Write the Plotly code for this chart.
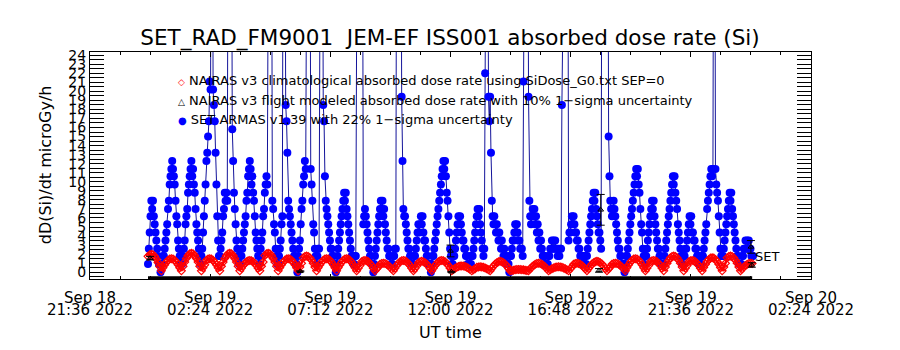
import pandas as pd
import plotly.graph_objects as go

# ---------------- data ----------------
set_start = "2022-09-18 23:55"
set_step = "2min"
clim_start = "2022-09-18 23:55"
clim_step = "4min"

# SET ARMAS v1.39 absorbed dose rate (microGy/h), 2-min samples
set_dose = [
    0.9, 2.6, 4.4, 6.2, 7.9, 7.0, 7.9, 6.2, 5.3, 4.4, 3.5, 2.6, 1.8, 0.9, 0.9, 0.0,
    0.9, 0.9, 1.8, 1.8, 2.6, 3.5, 4.4, 5.3, 7.0, 7.9, 9.7, 10.6, 11.4, 12.3, 11.4, 10.6, 9.7, 7.9, 6.2, 5.3, 3.5, 2.6, 1.8, 0.9,
    1.8, 0.9, 1.8, 2.6, 3.5, 5.3, 6.2, 7.0, 8.8, 9.7, 10.6, 11.4, 12.3, 10.6, 11.4, 9.7, 8.8, 7.0, 5.3, 4.4, 3.5, 2.6, 1.8, 0.9,
    1.8, 2.6, 4.4, 6.2, 7.9, 9.7, 12.3, 13.2, 15.0, 16.7, 21.1, 20.2, 58.0, 62.0, 20.2, 18.5, 16.7, 13.2, 9.7, 6.2, 3.5, 1.8,
    1.8, 2.6, 3.5, 4.4, 6.2, 7.0, 8.8, 7.9, 8.8, 7.9, 45.0, 52.0, 58.0, 55.0, 48.0, 15.8, 12.3, 8.8, 7.0, 5.3, 3.5, 2.6, 1.8, 0.9,
    1.8, 0.9, 1.8, 2.6, 3.5, 4.4, 5.3, 6.2, 7.9, 8.8, 10.6, 11.4, 12.3, 11.4, 9.7, 10.6, 8.8, 7.9, 6.2, 4.4, 3.5, 2.6, 1.8, 0.9,
    1.8, 2.6, 3.5, 4.4, 6.2, 7.0, 8.8, 9.7, 10.6, 9.7, 50.0, 56.0, 60.0, 54.0, 48.0, 7.9, 7.0, 5.3, 4.4, 2.6, 1.8, 0.9,
    0.9, 1.8, 2.6, 3.5, 5.3, 6.2, 46.0, 52.0, 48.0, 18.5, 16.7, 13.2, 7.9, 7.0, 6.2, 5.3, 4.4, 3.5, 2.6, 1.8, 1.8, 0.9, 0.9, 0.0,
    1.8, 2.6, 3.5, 5.3, 7.0, 7.9, 9.7, 10.6, 12.3, 11.4, 50.0, 55.0, 60.0, 56.0, 50.0, 11.4, 9.7, 7.9, 5.3, 4.4, 2.6, 1.8,
    0.9, 1.8, 2.6, 2.6, 48.0, 54.0, 56.0, 50.0, 18.5, 16.7, 10.6, 7.9, 7.0, 6.2, 5.3, 4.4, 3.5, 2.6, 2.6, 1.8, 1.8, 0.9, 0.9, 0.0,
    0.9, 1.8, 2.6, 3.5, 4.4, 5.3, 6.2, 7.0, 7.9, 8.8, 7.9, 8.8, 7.0, 6.2, 5.3, 4.4, 3.5, 2.6, 1.8, 1.8, 0.9, 0.9, 1.8, 1.8,
    46.0, 52.0, 56.0, 60.0, 58.0, 55.0, 50.0, 46.0, 5.3, 6.2, 7.0, 6.2, 5.3, 4.4, 3.5, 2.6, 1.8, 1.8, 0.9, 0.9, 0.0, 0.9,
    1.8, 2.6, 3.5, 4.4, 5.3, 6.2, 7.0, 7.9, 7.0, 7.9, 6.2, 7.0, 5.3, 4.4, 3.5, 2.6, 2.6, 1.8, 1.8, 0.9, 0.9, 0.9,
    1.8, 1.8, 2.6, 2.6, 48.0, 54.0, 58.0, 60.0, 55.0, 50.0, 19.4, 12.3, 7.0, 6.2, 6.2, 5.3, 4.4, 3.5, 2.6, 2.6, 1.8, 1.8, 0.9, 0.9,
    0.9, 1.8, 1.8, 2.6, 3.5, 4.4, 5.3, 4.4, 5.3, 6.2, 5.3, 6.2, 4.4, 3.5, 3.5, 2.6, 1.8, 1.8, 0.9, 0.9, 0.9, 0.0,
    0.9, 1.8, 1.8, 2.6, 3.5, 4.4, 5.3, 6.2, 7.0, 7.9, 8.8, 9.7, 10.6, 11.4, 12.3, 11.4, 12.3, 10.6, 8.8, 7.9, 6.2, 4.4, 2.6, 1.8,
    0.9, 0.9, 1.8, 1.8, 2.6, 3.5, 4.4, 5.3, 6.2, 5.3, 6.2, 5.3, 4.4, 3.5, 3.5, 2.6, 2.6, 1.8, 1.8, 0.9, 0.9, 0.9, 1.8, 0.9,
    1.8, 1.8, 2.6, 3.5, 4.4, 5.3, 6.2, 7.0, 6.2, 7.0, 5.3, 4.4, 3.5, 2.6, 1.8, 2.6, 22.0, 52.0, 60.0, 55.0, 19.4, 16.7,
    19.4, 13.2, 7.9, 6.2, 5.3, 6.2, 5.3, 4.4, 5.3, 4.4, 3.5, 4.4, 3.5, 2.6, 3.5, 2.6, 1.8, 2.6, 1.8, 0.9, 1.8, 0.9, 0.9, 0.0,
    1.8, 1.8, 2.6, 3.5, 3.5, 4.4, 5.3, 4.4, 5.3, 4.4, 3.5, 3.5, 2.6, 2.6, 2.6, 1.8, 21.1, 50.0, 56.0, 60.0, 57.0, 52.0,
    19.4, 7.9, 6.2, 5.3, 6.2, 7.0, 6.2, 7.0, 5.3, 6.2, 4.4, 5.3, 3.5, 4.4, 2.6, 3.5, 2.6, 1.8, 1.8, 0.9, 1.8, 0.9, 0.9, 0.9,
    1.8, 1.8, 2.6, 2.6, 3.5, 2.6, 3.5, 2.6, 3.5, 2.6, 2.6, 1.8, 2.6, 1.8, 2.6, 2.6, 18.5, 46.0, 50.0, 55.0, 58.0, 60.0, 56.0, 50.0,
    3.5, 4.4, 4.4, 5.3, 6.2, 5.3, 6.2, 5.3, 4.4, 4.4, 3.5, 3.5, 2.6, 2.6, 1.8, 1.8, 0.9, 1.8, 0.9, 1.8, 1.8, 0.9,
    1.8, 2.6, 3.5, 4.4, 5.3, 6.2, 7.0, 7.9, 8.8, 7.9, 8.8, 7.0, 6.2, 5.3, 4.4, 4.4, 3.5, 2.6, 50.0, 56.0, 60.0, 58.0, 54.0, 50.0,
    48.0, 46.0, 15.0, 10.6, 7.9, 7.0, 6.2, 7.0, 7.9, 7.0, 6.2, 5.3, 4.4, 3.5, 2.6, 2.6, 1.8, 1.8, 0.9, 0.9, 0.9, 0.0,
    0.9, 1.8, 1.8, 2.6, 3.5, 4.4, 5.3, 6.2, 7.0, 7.9, 8.8, 9.7, 10.6, 11.4, 10.6, 11.4, 9.7, 8.8, 7.0, 5.3, 4.4, 2.6, 1.8, 0.9,
    1.8, 1.8, 2.6, 3.5, 4.4, 5.3, 6.2, 7.0, 7.9, 7.0, 7.9, 6.2, 5.3, 4.4, 3.5, 2.6, 2.6, 1.8, 1.8, 0.9, 0.9, 0.9,
    0.9, 1.8, 2.6, 3.5, 4.4, 5.3, 6.2, 7.0, 7.9, 8.8, 9.7, 10.6, 9.7, 10.6, 8.8, 7.9, 7.0, 5.3, 4.4, 3.5, 2.6, 1.8, 0.9, 0.9,
    1.8, 1.8, 2.6, 2.6, 3.5, 4.4, 5.3, 6.2, 5.3, 6.2, 4.4, 4.4, 3.5, 3.5, 2.6, 2.6, 1.8, 1.8, 0.9, 1.8, 0.9, 0.9,
    1.8, 1.8, 2.6, 3.5, 4.4, 5.3, 7.0, 7.9, 8.8, 9.7, 10.6, 11.4, 10.6, 11.4, 55.0, 60.0, 11.4, 9.7, 8.8, 7.9, 6.2, 4.4, 2.6, 1.8,
    1.8, 1.8, 2.6, 3.5, 4.4, 5.3, 6.2, 7.0, 7.9, 8.8, 7.9, 8.8, 7.0, 6.2, 5.3, 4.4, 3.5, 2.6, 1.8, 1.8, 0.9, 0.9,
    0.9, 0.9, 1.8, 1.8, 2.6, 2.6, 3.5, 2.6, 3.5, 2.6, 3.5, 2.6, 2.6, 1.8, 1.8, 1.8,
]

# NAIRAS v3 climatological absorbed dose rate (microGy/h), 4-min samples
nairas_clim = [
    1.76, 1.94, 2.0, 1.94, 1.76, 1.46, 1.08, 0.63,
    0.15, 0.5, 0.83, 1.11, 1.32, 1.46, 1.5, 1.46, 1.32, 1.11, 0.83, 0.5,
    0.15, 0.66, 1.13, 1.53, 1.85, 2.04, 2.1, 2.04, 1.85, 1.53, 1.13, 0.66,
    0.15, 0.5, 0.83, 1.32, 1.46, 1.5, 1.46, 1.32, 1.11, 0.83, 0.5,
    0.15, 0.66, 1.13, 1.53, 1.85, 2.04, 2.1, 2.04, 1.85, 1.53, 1.13, 0.66,
    0.15, 0.45, 0.73, 0.97, 1.15, 1.27, 1.3, 1.27, 1.15, 0.97, 0.73, 0.45,
    0.15, 0.66, 1.13, 1.85, 2.04, 2.1, 2.04, 1.85, 1.53, 1.13, 0.66,
    0.15, 0.5, 0.83, 1.11, 1.32, 1.46, 1.5, 1.46, 1.32, 1.11, 0.83, 0.5,
    0.15, 0.58, 0.98, 1.59, 1.75, 1.8, 1.75, 1.59, 1.32, 0.98, 0.58,
    0.15, 0.5, 0.83, 1.11, 1.32, 1.46, 1.5, 1.46, 1.32, 1.11, 0.83, 0.5,
    0.15, 0.5, 0.83, 1.11, 1.32, 1.46, 1.5, 1.46, 1.32, 1.11, 0.83, 0.5,
    0.15, 0.45, 0.73, 1.15, 1.27, 1.3, 1.27, 1.15, 0.97, 0.73, 0.45,
    0.15, 0.37, 0.58, 0.89, 0.97, 1.0, 0.97, 0.89, 0.75, 0.58, 0.37,
    0.15, 0.45, 0.73, 0.97, 1.15, 1.27, 1.3, 1.27, 1.15, 0.97, 0.73, 0.45,
    0.15, 0.42, 0.68, 1.06, 1.17, 1.2, 1.17, 1.06, 0.9, 0.68, 0.42,
    0.15, 0.45, 0.73, 0.97, 1.15, 1.27, 1.3, 1.27, 1.15, 0.97, 0.73, 0.45,
    0.15, 0.29, 0.43, 0.54, 0.63, 0.68, 0.7, 0.68, 0.63, 0.54, 0.43, 0.29,
    0.15, 0.27, 0.38, 0.54, 0.59, 0.6, 0.59, 0.54, 0.47, 0.38, 0.27,
    0.15, 0.42, 0.68, 0.9, 1.06, 1.17, 1.2, 1.17, 1.06, 0.9, 0.68, 0.42,
    0.15, 0.19, 0.23, 0.28, 0.3, 0.3, 0.3, 0.28, 0.26, 0.23, 0.19,
    0.15, 0.37, 0.58, 0.75, 0.89, 0.97, 1.0, 0.97, 0.89, 0.75, 0.58, 0.37,
    0.15, 0.27, 0.38, 0.47, 0.54, 0.59, 0.6, 0.59, 0.54, 0.47, 0.38, 0.27,
    0.15, 0.37, 0.58, 0.89, 0.97, 1.0, 0.97, 0.89, 0.75, 0.58, 0.37,
    0.15, 0.42, 0.68, 0.9, 1.06, 1.17, 1.2, 1.17, 1.06, 0.9, 0.68, 0.42,
    0.15, 0.37, 0.58, 0.89, 0.97, 1.0, 0.97, 0.89, 0.75, 0.58, 0.37,
    0.15, 0.5, 0.83, 1.11, 1.32, 1.46, 1.5, 1.46, 1.32, 1.11, 0.83, 0.5,
    0.15, 0.45, 0.73, 1.15, 1.27, 1.3, 1.27, 1.15, 0.97, 0.73, 0.45,
    0.15, 0.58, 0.98, 1.32, 1.59, 1.75, 1.8, 1.75, 1.59, 1.32, 0.98, 0.58,
    0.15, 0.45, 0.73, 1.15, 1.27, 1.3, 1.27, 1.15, 0.97, 0.73, 0.45,
    0.15, 0.53, 0.88, 1.18, 1.41, 1.56, 1.6, 1.56, 1.41, 1.18, 0.88, 0.53,
    0.15, 0.58, 0.98, 1.59, 1.75, 1.8, 1.75, 1.59, 1.32, 0.98, 0.58,
    0.15, 0.37, 0.58, 0.75, 0.89, 0.97, 1.0, 0.97,
]

# NAIRAS v3 flight modeled absorbed dose rate with uncertainty
flight_time = ["2022-09-19 00:00", "2022-09-19 06:00", "2022-09-19 12:00",
               "2022-09-19 12:02", "2022-09-19 17:56", "2022-09-19 18:00",
               "2022-09-20 00:00", "2022-09-20 00:02"]
flight_dose = [1.55, 0.1, 2.35, 0.05, 0.2, 6.9, 2.8, 0.8]
flight_err = [0.2, 0.05, 0.65, 0.05, 0.2, 1.7, 0.7, 0.25]

# flight-track baseline drawn along the bottom
baseline_time = ["2022-09-18 23:55", "2022-09-20 00:03"]
baseline_dose = [-0.6, -0.6]

x_range = ["2022-09-18 21:36", "2022-09-20 02:24"]
x_tick0 = "2022-09-18 21:36"
x_dtick_ms = 4.8 * 3600 * 1000
x_minor_ms = 1.2 * 3600 * 1000
y_range = [-0.75, 24.35]

set_label_time = "2022-09-20 00:05"
set_label_y = 1.7

# ---------------- figure ----------------
set_time = pd.date_range(set_start, periods=len(set_dose), freq=set_step)
clim_time = pd.date_range(clim_start, periods=len(nairas_clim), freq=clim_step)

FONT = "DejaVu Sans"
fig = go.Figure()

fig.add_trace(go.Scatter(
    x=pd.to_datetime(baseline_time), y=baseline_dose, mode="lines",
    line=dict(color="black", width=3), showlegend=False, hoverinfo="skip"))

fig.add_trace(go.Scatter(
    x=set_time, y=set_dose, mode="lines+markers",
    line=dict(color="#14149a", width=1),
    marker=dict(symbol="circle", size=8, color="#0000ff"),
    showlegend=False))

fig.add_trace(go.Scatter(
    x=clim_time, y=nairas_clim, mode="lines+markers",
    line=dict(color="#ff0000", width=2.5),
    marker=dict(symbol="diamond-open", size=6, color="#ff0000", line=dict(width=1.2)),
    showlegend=False))

fig.add_trace(go.Scatter(
    x=pd.to_datetime(flight_time), y=flight_dose, mode="markers",
    marker=dict(symbol="triangle-up-open", size=5, color="black"),
    error_y=dict(type="data", array=flight_err, color="black", thickness=1, width=4),
    showlegend=False))

# invisible trace for the second-line date axis
fig.add_trace(go.Scatter(x=pd.to_datetime(x_range), y=[None, None], xaxis="x2",
                         mode="lines", showlegend=False, hoverinfo="skip"))

fig.update_layout(
    width=900, height=350,
    margin=dict(l=90, r=89, t=52, b=71, pad=0),
    paper_bgcolor="white", plot_bgcolor="white",
    font=dict(family=FONT, color="black"),
    title=dict(text="SET_RAD_FM9001\u00a0\u00a0JEM-EF ISS001 absorbed dose rate (Si)",
               x=0.5, xanchor="center", y=1 - 37 / 350, yanchor="middle",
               font=dict(size=21.5, family=FONT, color="black")),
    xaxis=dict(type="date", range=x_range, tick0=x_tick0, dtick=x_dtick_ms,
               tickformat="%b %d", ticks="inside", ticklen=5, tickcolor="black",
               minor=dict(dtick=x_minor_ms, ticks="inside", ticklen=3, tickcolor="black"),
               showline=True, linecolor="black", linewidth=1, mirror="allticks",
               showgrid=False, zeroline=False, tickfont=dict(size=15),
               ticklabelstandoff=5),
    xaxis2=dict(type="date", range=x_range, tick0=x_tick0, dtick=x_dtick_ms,
                overlaying="x", side="bottom", tickformat="%H:%M %Y", ticks="",
                showline=False, showgrid=False, zeroline=False,
                tickfont=dict(size=15), ticklabelstandoff=20),
    yaxis=dict(range=y_range, tick0=0, dtick=1, ticks="inside", ticklen=14,
               tickcolor="black",
               minor=dict(dtick=0.5, ticks="inside", ticklen=9, tickcolor="black"),
               showline=True, linecolor="black", linewidth=1, mirror="allticks",
               showgrid=False, zeroline=False, tickfont=dict(size=14)),
)

legend_rows = [
    ('<span style="color:#ff0000;font-size:9px">\u25c7</span> NAIRAS v3 climatological absorbed dose rate using SiDose_G0.txt SEP=0', 80),
    ('<span style="font-size:9px">\u25b3</span> NAIRAS v3 flight modeled absorbed dose rate with 10% 1\u2212sigma uncertainty', 100),
    ('<span style="color:#0000ff;font-size:10px">\u25cf</span> SET ARMAS v1.39 with 22% 1\u2212sigma uncertainty', 119),
]
for txt, ypx in legend_rows:
    fig.add_annotation(text=txt, xref="paper", yref="paper",
                       x=(176 - 90) / 721, y=(279 - ypx) / 227.5,
                       xanchor="left", yanchor="middle", showarrow=False,
                       font=dict(size=13, family=FONT, color="black"))

fig.add_annotation(text="SET", x=pd.Timestamp(set_label_time), y=set_label_y,
                   xanchor="left", yanchor="middle", showarrow=False,
                   font=dict(size=13, family=FONT, color="black"))

fig.add_annotation(text="dD(Si)/dt microGy/h", xref="paper", yref="paper",
                   x=(45 - 90) / 721, y=(279 - 165) / 227.5, textangle=-90,
                   xanchor="center", yanchor="middle", showarrow=False,
                   font=dict(size=16, family=FONT, color="black"))

fig.add_annotation(text="UT time", xref="paper", yref="paper",
                   x=(450 - 90) / 721, y=(279 - 333) / 227.5,
                   xanchor="center", yanchor="middle", showarrow=False,
                   font=dict(size=16, family=FONT, color="black"))

fig.write_html("out.html")
